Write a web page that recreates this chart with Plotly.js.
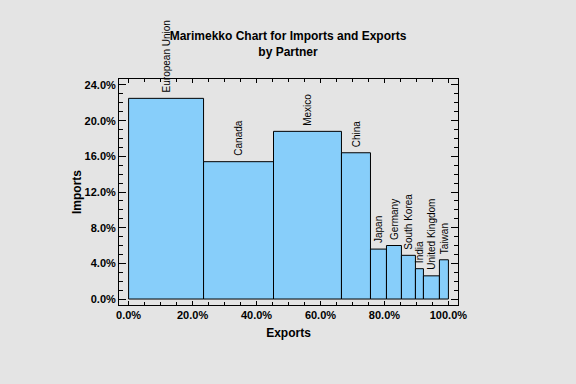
<!DOCTYPE html>
<html>
<head>
<meta charset="utf-8">
<script src="https://cdn.plot.ly/plotly-3.0.1.min.js"></script>
<style>
html,body{margin:0;padding:0;background:#e4e4e4;}
#chart{width:576px;height:384px;}
</style>
</head>
<body>
<div id="chart"></div>
<script>
// Partners, share of exports (bar widths, %) and share of imports (bar heights, %)
const partners = ["European Union","Canada","Mexico","China","Japan","Germany","South Korea","India","United Kingdom","Taiwan"];
const exportsShare = [23.44, 21.87, 21.25, 9.07, 5.0, 4.68, 4.38, 2.5, 5.0, 2.81];
const importsShare = [22.5, 15.4, 18.8, 16.4, 5.6, 6.0, 4.9, 3.4, 2.6, 4.4];
const xTickVals = [0, 20, 40, 60, 80, 100];
const yTickVals = [0, 4, 8, 12, 16, 20, 24];

const centers = [];
let cum = 0;
for (let i = 0; i < exportsShare.length; i++) {
  centers.push(cum + exportsShare[i] / 2);
  cum += exportsShare[i];
}

const FONT = "Liberation Sans, Arial, sans-serif";
const pct = v => v.toFixed(1) + "%";

const trace = {
  type: "bar",
  x: centers,
  y: importsShare,
  width: exportsShare,
  text: partners,
  hoverinfo: "text",
  textposition: "none",
  marker: {color: "#87cefa", line: {color: "#000000", width: 1}},
  showlegend: false
};

const annotations = partners.map((p, i) => ({
  x: centers[i], y: importsShare[i], xref: "x", yref: "y",
  text: p, textangle: -90, showarrow: false,
  xanchor: "center", yanchor: "bottom", yshift: 4,
  font: {family: FONT, size: 10, color: "#000000"}
}));

const layout = {
  width: 576, height: 384,
  paper_bgcolor: "#e4e4e4", plot_bgcolor: "#e4e4e4",
  margin: {l: 119, r: 118, t: 79, b: 79, pad: 0},
  bargap: 0,
  title: {
    text: "Marimekko Chart for Imports and Exports<br>by Partner",
    font: {family: FONT, size: 12, color: "#000000", weight: "bold"},
    x: 0.5, xanchor: "center", y: 0.895, yanchor: "top"
  },
  xaxis: {
    range: [-3, 103], showgrid: false, zeroline: false,
    showline: true, linecolor: "#000000", linewidth: 1, mirror: "ticks",
    ticks: "inside", ticklen: 4, tickcolor: "#000000",
    tickmode: "array", tickvals: xTickVals, ticktext: xTickVals.map(pct),
    minor: {dtick: 5, tick0: 0, ticks: "inside", ticklen: 3, tickcolor: "#000000", showgrid: false},
    tickfont: {family: FONT, size: 11, color: "#000000", weight: "bold"},
    title: {text: "Exports", font: {family: FONT, size: 12, color: "#000000", weight: "bold"}, standoff: 8}
  },
  yaxis: {
    range: [-0.67, 24.67], showgrid: false, zeroline: false,
    showline: true, linecolor: "#000000", linewidth: 1, mirror: "ticks",
    ticks: "inside", ticklen: 7, tickcolor: "#000000",
    tickmode: "array", tickvals: yTickVals, ticktext: yTickVals.map(pct),
    minor: {dtick: 1, tick0: 0, ticks: "inside", ticklen: 4, tickcolor: "#000000", showgrid: false},
    tickfont: {family: FONT, size: 11, color: "#000000", weight: "bold"},
    title: {text: "Imports", font: {family: FONT, size: 12, color: "#000000", weight: "bold"}, standoff: 0}
  },
  annotations: annotations
};

Plotly.newPlot("chart", [trace], layout, {displayModeBar: false, staticPlot: true});
</script>
</body>
</html>
